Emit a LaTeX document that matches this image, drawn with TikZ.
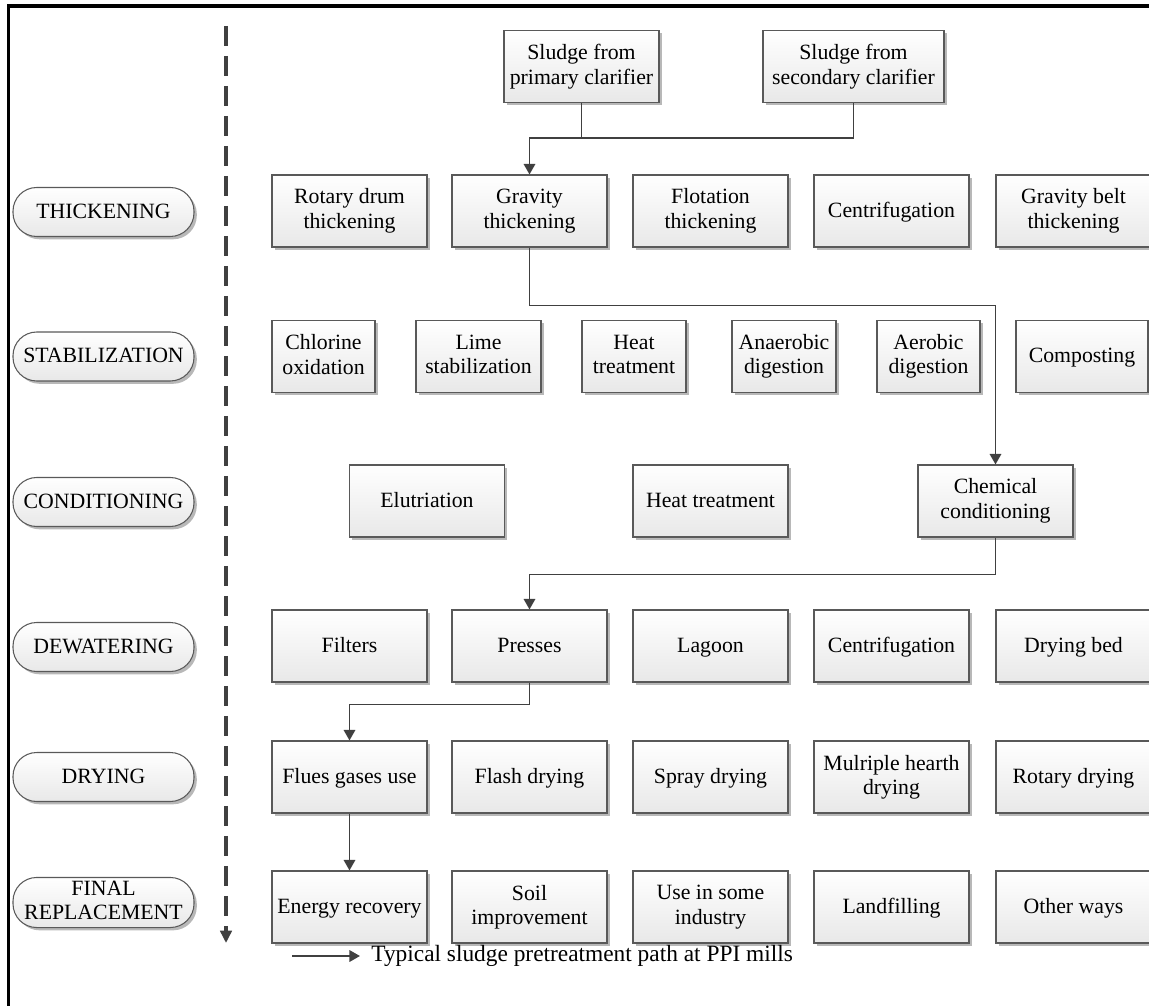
\documentclass[tikz,border=0pt]{standalone}
\usepackage{fontspec}
\setmainfont{Liberation Serif}
\usetikzlibrary{positioning,shadows,arrows.meta}

\begin{document}
\begin{tikzpicture}[
    x=0.02cm, y=-0.02cm,
    font=\fontsize{12.4}{13.9}\selectfont,
    box/.style={draw=black!65, line width=0.6pt, top color=white, bottom color=black!9,
      drop shadow={shadow xshift=1.6pt, shadow yshift=-1.6pt, fill=black!28, opacity=1},
      align=center, inner sep=2pt, minimum height=1.44cm, minimum width=#1*0.02cm,
      execute at begin node=\rule{0pt}{9.7pt}, execute at end node=\rule[-2.4pt]{0pt}{2.4pt}},
    box/.default=155,
    stage/.style={box=181, minimum height=0.98cm, rounded corners=13.5pt},
    link/.style={draw=black!75, line width=1.1pt},
    flow/.style={link, -{Triangle[length=6pt,width=6.5pt]}},
  ]
    \useasboundingbox (0,0) rectangle (1149,1006);
    % frame and time axis
    \draw[line width=2.2pt] (8.5,1006) -- (8.5,6) -- (1149,6);
    \coordinate (axtop) at (226,26);
    \coordinate (axbot) at (226,943);
    \draw[black!75, line width=1.8pt, dash pattern=on 0.4cm off 0.2cm,
      -{Triangle[length=7pt,width=6.5pt]}] (axtop) -- (axbot);

    % stages
    \node[stage] (sthick) at (103.5,212) {THICKENING};
    \node[stage] (sstab) at (103.5,356.5) {STABILIZATION};
    \node[stage] (scond) at (103.5,502) {CONDITIONING};
    \node[stage] (sdew) at (103.5,647) {DEWATERING};
    \node[stage] (sdry) at (103.5,777) {DRYING};
    \node[stage] (sfinal) at (103.5,902.5) {FINAL\\REPLACEMENT};

    % sources
    \node[box] (prim) at (581.5,66.5) {Sludge from\\primary clarifier};
    \node[box=181] (sec) at (853.5,66.5) {Sludge from\\secondary clarifier};

    % thickening
    \node[box] (rotary) at (349.5,211) {Rotary drum\\thickening};
    \node[box] (gravity) at (529.5,211) {Gravity\\thickening};
    \node[box] (flotation) at (710.5,211) {Flotation\\thickening};
    \node[box] (centrift) at (891.5,211) {Centrifugation};
    \node[box] (belt) at (1073.5,211) {Gravity belt\\thickening};

    % stabilization
    \node[box=103] (chlorine) at (323.5,356.5) {Chlorine\\oxidation};
    \node[box=125] (lime) at (478.5,356.5) {Lime\\stabilization};
    \node[box=104] (heats) at (634,356.5) {Heat\\treatment};
    \node[box=104] (anaer) at (784,356.5) {Anaerobic\\digestion};
    \node[box=103] (aerob) at (928.5,356.5) {Aerobic\\digestion};
    \node[box=132] (compost) at (1082,356.5) {Composting};

    % conditioning
    \node[box] (elutr) at (427,501) {Elutriation};
    \node[box] (heatc) at (710.5,501) {Heat treatment};
    \node[box] (chem) at (995.5,501) {Chemical\\conditioning};

    % dewatering
    \node[box] (filters) at (349.5,646) {Filters};
    \node[box] (presses) at (529.5,646) {Presses};
    \node[box] (lagoon) at (710.5,646) {Lagoon};
    \node[box] (centrifd) at (891.5,646) {Centrifugation};
    \node[box] (drybed) at (1073.5,646) {Drying bed};

    % drying
    \node[box] (flues) at (349.5,777) {Flues gases use};
    \node[box] (flash) at (529.5,777) {Flash drying};
    \node[box] (spray) at (710.5,777) {Spray drying};
    \node[box] (hearth) at (891.5,777) {Mulriple hearth\\drying};
    \node[box] (rotdry) at (1073.5,777) {Rotary drying};

    % final replacement
    \node[box] (energy) at (349.5,907) {Energy recovery};
    \node[box] (soil) at (529.5,907) {Soil\\improvement};
    \node[box] (industry) at (710.5,907) {Use in some\\industry};
    \node[box] (landfill) at (891.5,907) {Landfilling};
    \node[box] (other) at (1073.5,907) {Other ways};

    % typical path
    \coordinate (j1) at (529.5,138);
    \draw[link] (sec.south) |- (j1);
    \draw[flow] (prim.south) |- (j1) -- (gravity.north);
    \draw[flow] (gravity.south) -- ++(0,58) -| (chem.north);
    \draw[flow] (chem.south) -- ++(0,37) -| (presses.north);
    \draw[flow] (presses.south) -- ++(0,22) -| (flues.north);
    \draw[flow] (flues.south) -- (energy.north);

    % legend
    \coordinate (lega) at (292,956);
    \coordinate (legb) at (360,956);
    \draw[flow] (lega) -- (legb);
    \node[right=0.22cm of legb, inner sep=0, font=\fontsize{13.3}{15}\selectfont] (legtext)
      {Typical sludge pretreatment path at PPI mills};
\end{tikzpicture}
\end{document}
